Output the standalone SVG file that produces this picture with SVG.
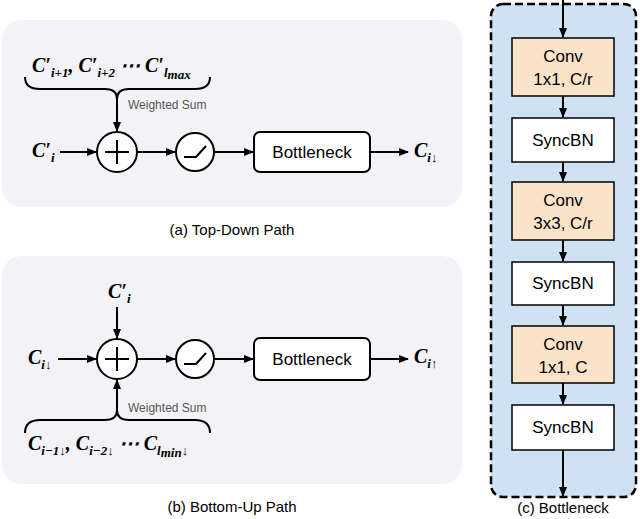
<svg xmlns="http://www.w3.org/2000/svg" width="640" height="519" viewBox="0 0 640 519">
<defs>
<marker id="ah" markerWidth="10" markerHeight="8" refX="9" refY="4" orient="auto" markerUnits="userSpaceOnUse"><path d="M0,0 L10,4 L0,8 Z" fill="#000"/></marker>
<style>
.panel{fill:#f3f3f7}
.ln{stroke:#000;stroke-width:2;fill:none}
.arr{stroke:#000;stroke-width:2;fill:none;marker-end:url(#ah)}
.nd{fill:#fff;stroke:#000;stroke-width:2}
.lbl{font-family:"Liberation Sans",Arial,sans-serif;font-size:17px;text-anchor:middle}
.cap{font-family:"Liberation Sans",Arial,sans-serif;font-size:15px;text-anchor:middle}
.ws{font-family:"Liberation Sans",Arial,sans-serif;font-size:12px;fill:#555}
.m{font-family:"Liberation Serif","DejaVu Serif",serif;font-size:20px;font-weight:bold;font-style:italic}
.s{font-size:13px}
.conv{fill:#fbe3c9;stroke:#000;stroke-width:1.5}
.bn{fill:#fff;stroke:#000;stroke-width:1.5}
</style>
</defs>
<rect class="panel" x="2" y="20" width="460" height="187" rx="20"/>
<rect class="panel" x="2" y="256" width="460" height="228" rx="20"/>
<rect x="491" y="4" width="145" height="493" rx="12" fill="#cfe2f3" stroke="#000" stroke-width="2.5" stroke-dasharray="8,4"/>

<g id="connectors">
<path class="ln" d="M25,77 Q25,89 40,89 L105,89 Q117,89 117,99 Q117,89 129,89 L195,89 Q210,89 210,77"/>
<path class="arr" d="M117,99 L117,131"/>
<path class="arr" d="M60,152 L96,152"/>
<path class="arr" d="M137,152 L175,152"/>
<path class="arr" d="M214,152 L253,152"/>
<path class="arr" d="M371,152 L408,152"/>
<path class="arr" d="M117,307 L117,338"/>
<path class="arr" d="M58,359 L96,359"/>
<path class="arr" d="M117,415 L117,380"/>
<path class="ln" d="M25,433 Q25,420 40,420 L105,420 Q117,420 117,410 Q117,420 129,420 L195,420 Q210,420 210,433"/>
<path class="arr" d="M137,359 L175,359"/>
<path class="arr" d="M214,359 L253,359"/>
<path class="arr" d="M371,359 L408,359"/>
<path class="arr" d="M563,0 L563,37"/>
<path class="arr" d="M563,96 L563,117"/>
<path class="arr" d="M563,162 L563,181"/>
<path class="arr" d="M563,240 L563,261"/>
<path class="arr" d="M563,305 L563,325"/>
<path class="arr" d="M563,383 L563,404"/>
<path class="arr" d="M563,450 L563,496"/>
</g>

<g id="a-inputs">
<text class="m" x="32" y="72">C′<tspan class="s" dy="5">i+1</tspan><tspan dy="-5">,  C′</tspan><tspan class="s" dy="5">i+2</tspan><tspan dy="-5"> ⋯ C′</tspan><tspan class="s" dy="5">l</tspan><tspan class="s" font-size="10" dy="2">max</tspan></text>
<text class="ws" x="128" y="109">Weighted Sum</text>
</g>
<g id="a-ci"><text class="m" x="32" y="157">C′<tspan class="s" dy="5">i</tspan></text></g>
<g id="a-plus"><circle class="nd" cx="117" cy="152" r="20"/><path class="ln" d="M105,152 H129 M117,140 V164"/></g>
<g id="a-relu"><circle class="nd" cx="195" cy="152" r="19"/><path class="ln" d="M184,157 H196 L206,146"/></g>
<g id="a-bottleneck"><rect class="nd" x="254" y="132" width="116" height="40" rx="6"/><text class="lbl" x="312" y="158">Bottleneck</text></g>
<g id="a-out"><text class="m" x="414" y="157">C<tspan class="s" dy="5">i↓</tspan></text></g>
<text class="cap" x="232" y="235">(a) Top-Down Path</text>

<g id="b-ci"><text class="m" x="108" y="298">C′<tspan class="s" dy="5">i</tspan></text></g>
<g id="b-cin"><text class="m" x="28" y="364">C<tspan class="s" dy="5">i↓</tspan></text></g>
<g id="b-plus"><circle class="nd" cx="117" cy="359" r="20"/><path class="ln" d="M105,359 H129 M117,347 V371"/></g>
<g id="b-relu"><circle class="nd" cx="195" cy="359" r="19"/><path class="ln" d="M184,364 H196 L206,353"/></g>
<g id="b-bottleneck"><rect class="nd" x="254" y="338" width="116" height="42" rx="6"/><text class="lbl" x="312" y="365">Bottleneck</text></g>
<g id="b-out"><text class="m" x="414" y="363">C<tspan class="s" dy="5">i↑</tspan></text></g>
<g id="b-inputs">
<text class="ws" x="128" y="412">Weighted Sum</text>
<text class="m" x="28" y="450">C<tspan class="s" dy="5">i−1↓</tspan><tspan dy="-5">, C</tspan><tspan class="s" dy="5">i−2↓</tspan><tspan dy="-5"> ⋯ C</tspan><tspan class="s" dy="5">l</tspan><tspan class="s" font-size="10" dy="2">min</tspan><tspan class="s" dy="-2">↓</tspan></text>
</g>
<text class="cap" x="232" y="512">(b) Bottom-Up Path</text>

<g id="conv1"><rect class="conv" x="512" y="38" width="102" height="58"/><text class="lbl" x="563" y="62">Conv</text><text class="lbl" x="563" y="85">1x1, C/r</text></g>
<g id="bn1"><rect class="bn" x="512" y="118" width="102" height="44"/><text class="lbl" x="563" y="146">SyncBN</text></g>
<g id="conv2"><rect class="conv" x="512" y="182" width="102" height="58"/><text class="lbl" x="563" y="206">Conv</text><text class="lbl" x="563" y="229">3x3, C/r</text></g>
<g id="bn2"><rect class="bn" x="512" y="262" width="102" height="43"/><text class="lbl" x="563" y="289">SyncBN</text></g>
<g id="conv3"><rect class="conv" x="512" y="326" width="102" height="57"/><text class="lbl" x="563" y="350">Conv</text><text class="lbl" x="563" y="373">1x1, C</text></g>
<g id="bn3"><rect class="bn" x="512" y="405" width="102" height="45"/><text class="lbl" x="563" y="433">SyncBN</text></g>
<text class="cap" x="563" y="513">(c) Bottleneck</text>
</svg>
